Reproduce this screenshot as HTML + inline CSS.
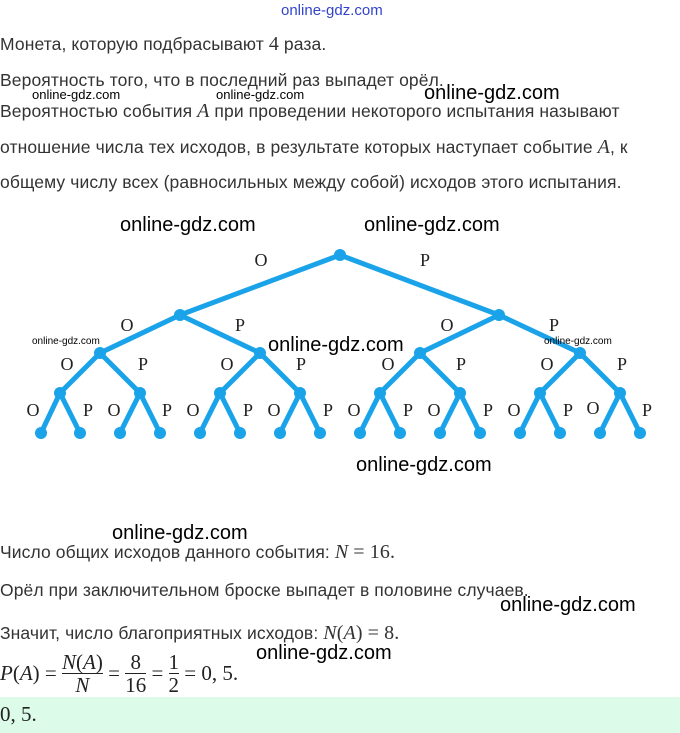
<!DOCTYPE html>
<html><head><meta charset="utf-8"><style>
body{margin:0;width:680px;height:733px;background:#fff;position:relative;overflow:hidden;font-family:"Liberation Sans","DejaVu Sans",sans-serif;color:#333}
.t{position:absolute;left:0;font-size:17.5px;white-space:nowrap;letter-spacing:0.1px}
.m{font-family:"Liberation Serif",serif;font-style:italic;font-size:20px}
.n{font-family:"Liberation Serif",serif;font-size:20px}
.w{position:absolute;font-family:"Liberation Sans",sans-serif;color:#000;white-space:nowrap}
</style></head><body>
<div class="w" style="left:281px;top:2px;font-size:15px;color:#3344cc">online-gdz.com</div>
<div class="t" style="top:33px">Монета, которую подбрасывают <span class="n">4</span> раза.</div>
<div class="t" style="top:70px">Вероятность того, что в последний раз выпадет орёл.</div>
<div class="t" style="top:100px">Вероятностью события <span class="m">A</span> при проведении некоторого испытания называют</div>
<div class="t" style="top:136px">отношение числа тех исходов, в результате которых наступает событие <span class="m">A</span>, к</div>
<div class="t" style="top:172px">общему числу всех (равносильных между собой) исходов этого испытания.</div>
<div class="w" style="left:32px;top:87px;font-size:13px">online-gdz.com</div>
<div class="w" style="left:216px;top:87px;font-size:13px">online-gdz.com</div>
<div class="w" style="left:424px;top:82px;font-size:20px">online-gdz.com</div>
<div class="w" style="left:120px;top:214px;font-size:20px">online-gdz.com</div>
<div class="w" style="left:364px;top:214px;font-size:20px">online-gdz.com</div>
<svg style="position:absolute;left:0;top:0" width="680" height="733">
<g stroke="#1aa3e8" stroke-width="5" fill="none" stroke-linecap="round">
<path d="M340 255L180 315M340 255L499 315
M180 315L100 353M180 315L260 353M499 315L420 353M499 315L580 353
M100 353L60 393M100 353L140 393M260 353L220 393M260 353L300 393M420 353L380 393M420 353L460 393M580 353L540 393M580 353L620 393
M60 393L41 433M60 393L80 433M140 393L120 433M140 393L160 433M220 393L200 433M220 393L240 433M300 393L280 433M300 393L320 433M380 393L360 433M380 393L400 433M460 393L440 433M460 393L480 433M540 393L520 433M540 393L560 433M620 393L600 433M620 393L640 433"/>
</g>
<g fill="#1aa3e8">
<circle cx="340" cy="255" r="6"/><circle cx="180" cy="315" r="6"/><circle cx="499" cy="315" r="6"/>
<circle cx="100" cy="353" r="6"/><circle cx="260" cy="353" r="6"/><circle cx="420" cy="353" r="6"/><circle cx="580" cy="353" r="6"/>
<circle cx="60" cy="393" r="6"/><circle cx="140" cy="393" r="6"/><circle cx="220" cy="393" r="6"/><circle cx="300" cy="393" r="6"/><circle cx="380" cy="393" r="6"/><circle cx="460" cy="393" r="6"/><circle cx="540" cy="393" r="6"/><circle cx="620" cy="393" r="6"/>
<circle cx="41" cy="433" r="6"/><circle cx="80" cy="433" r="6"/><circle cx="120" cy="433" r="6"/><circle cx="160" cy="433" r="6"/><circle cx="200" cy="433" r="6"/><circle cx="240" cy="433" r="6"/><circle cx="280" cy="433" r="6"/><circle cx="320" cy="433" r="6"/><circle cx="360" cy="433" r="6"/><circle cx="400" cy="433" r="6"/><circle cx="440" cy="433" r="6"/><circle cx="480" cy="433" r="6"/><circle cx="520" cy="433" r="6"/><circle cx="560" cy="433" r="6"/><circle cx="600" cy="433" r="6"/><circle cx="640" cy="433" r="6"/>
</g>
<g font-family="Liberation Serif,serif" font-size="18" fill="#222" text-anchor="middle">
<text x="261" y="266">O</text><text x="425" y="266">P</text>
<text x="127" y="331">O</text><text x="240" y="331">P</text><text x="447" y="331">O</text><text x="554" y="331">P</text>
<text x="67" y="370">O</text><text x="143" y="370">P</text><text x="227" y="370">O</text><text x="301" y="370">P</text><text x="388" y="370">O</text><text x="461" y="370">P</text><text x="547" y="370">O</text><text x="622" y="370">P</text>
<text x="33" y="416">O</text><text x="88" y="416">P</text><text x="114" y="416">O</text><text x="167" y="416">P</text><text x="193" y="416">O</text><text x="248" y="416">P</text><text x="274" y="416">O</text><text x="328" y="416">P</text><text x="354" y="416">O</text><text x="408" y="416">P</text><text x="434" y="416">O</text><text x="488" y="416">P</text><text x="514" y="416">O</text><text x="568" y="416">P</text><text x="593" y="414">O</text><text x="647" y="416">P</text>
</g>
</svg>
<div class="w" style="left:32px;top:336px;font-size:10px">online-gdz.com</div>
<div class="w" style="left:268px;top:334px;font-size:20px">online-gdz.com</div>
<div class="w" style="left:544px;top:336px;font-size:10px">online-gdz.com</div>
<div class="w" style="left:356px;top:454px;font-size:20px">online-gdz.com</div>
<div class="w" style="left:112px;top:522px;font-size:20px">online-gdz.com</div>
<div class="t" style="top:541px">Число общих исходов данного события: <span class="m">N</span> <span class="n">= 16.</span></div>
<div class="t" style="top:580px">Орёл при заключительном броске выпадет в половине случаев.</div>
<div class="w" style="left:500px;top:594px;font-size:20px">online-gdz.com</div>
<div class="t" style="top:622px">Значит, число благоприятных исходов: <span class="m">N</span><span class="n">(</span><span class="m">A</span><span class="n">) = 8.</span></div>
<div class="w" style="left:256px;top:642px;font-size:20px">online-gdz.com</div>
<div style="position:absolute;left:0;top:651px;font-family:'Liberation Serif',serif;font-size:21px;color:#222;display:flex;align-items:center;white-space:nowrap">
<i>P</i>(<i>A</i>) =&nbsp;<span style="display:inline-block;text-align:center;line-height:22px"><span style="display:block;border-bottom:1px solid #222"><i>N</i>(<i>A</i>)</span><i>N</i></span>&nbsp;=&nbsp;<span style="display:inline-block;text-align:center;line-height:22px"><span style="display:block;border-bottom:1px solid #222">8</span>16</span>&nbsp;=&nbsp;<span style="display:inline-block;text-align:center;line-height:22px"><span style="display:block;border-bottom:1px solid #222">1</span>2</span>&nbsp;= 0, 5.</div>
<div style="position:absolute;left:0;top:697px;width:680px;height:36px;background:#dcfbe9"></div>
<div style="position:absolute;left:0;top:702px;font-family:'Liberation Serif',serif;font-size:21px;color:#222">0, 5.</div>
</body></html>
